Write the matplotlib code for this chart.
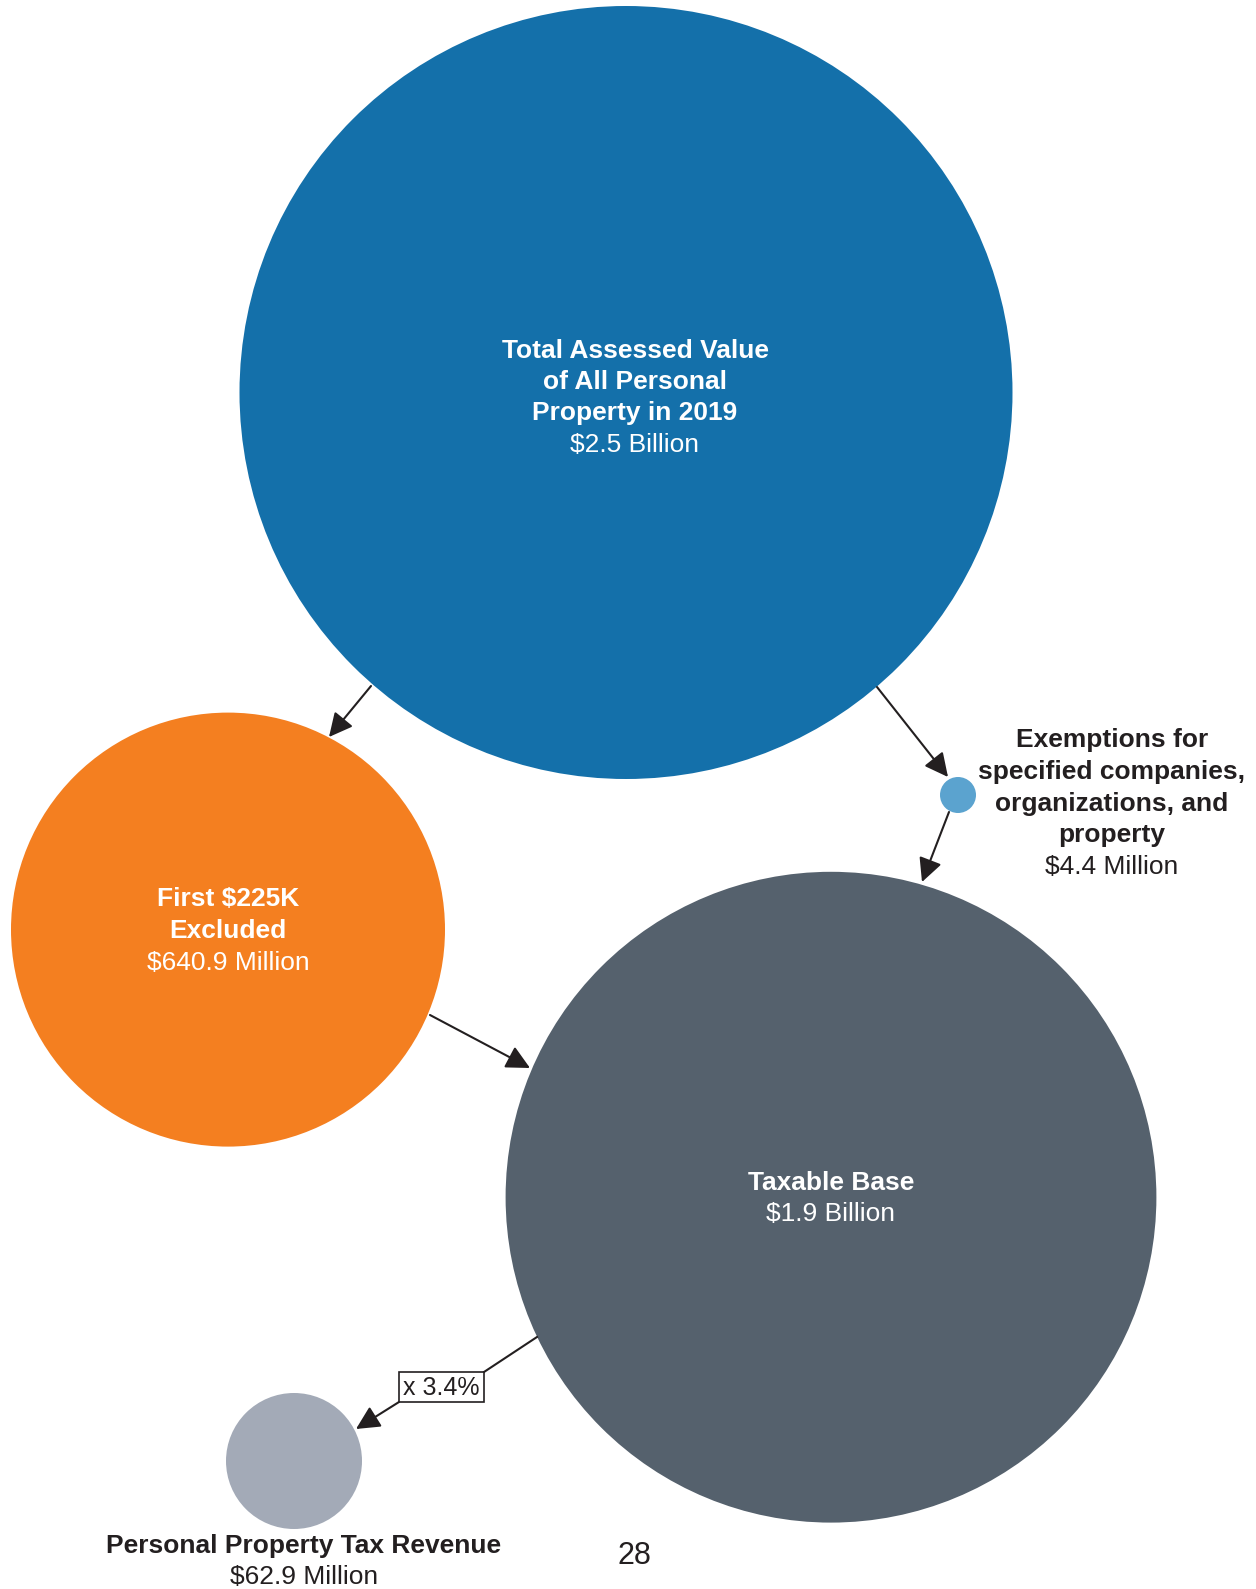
import matplotlib.pyplot as plt
from matplotlib.patches import Circle, Rectangle

plt.rcParams["font.family"] = ["Liberation Sans", "DejaVu Sans"]

# ── Datos ──────────────────────────────────────────────────────────────────────
names = [
    "Total Assessed Value\nof All Personal\nProperty in 2019",
    "First $225K\nExcluded",
    "Exemptions for\nspecified companies,\norganizations, and\nproperty",
    "Taxable Base",
    "Personal Property Tax Revenue",
]
amounts = ["$2.5 Billion", "$640.9 Million", "$4.4 Million", "$1.9 Billion", "$62.9 Million"]
values_musd = [2500, 640.9, 4.4, 1900, 62.9]
tax_rate = 3.4
page_number = "28"

# ── Diseño (píxeles, origen arriba-izquierda) ──────────────────────────────────
W, H = 1256, 1589
colors = ["#1470AA", "#F47F20", "#5BA3CF", "#55616D", "#A3AAB7"]
centers = [(626, 392.5), (228, 929.6), (958, 795), (831, 1197.2), (294, 1461)]
radii = [386.5, 217, 18, 325.4, 68]
label_pos = [(635, 358), (228, 906.5), (1112, 747), (831, 1189.5), (304, 1553)]
label_color = ["white", "white", "#231F20", "white", "#231F20"]
line_step = [31.2, 31.5, 31.8, 31.2, 30.5]
TEXT = "#231F20"

# flechas: (inicio, fin)
arrows = [
    ((371, 686), (329, 737)),
    ((877, 687), (948, 777)),
    ((949, 812), (922, 882)),
    ((430, 1015), (530, 1068)),
    ((399, 1402), (356, 1429)),
]
rate_box = (399, 1372, 85, 30)
rate_line = ((537, 1337), (484, 1372))

# ── Gráfica ────────────────────────────────────────────────────────────────────
fig = plt.figure(figsize=(W / 100, H / 100), dpi=100)
ax = fig.add_axes([0, 0, 1, 1])
ax.set_xlim(0, W)
ax.set_ylim(H, 0)
ax.axis("off")

for (cx, cy), r, c in zip(centers, radii, colors):
    ax.add_patch(Circle((cx, cy), r, facecolor=c, edgecolor="none", zorder=1))

for name, amount, (x, y), col, step in zip(names, amounts, label_pos, label_color, line_step):
    lines = name.split("\n")
    for i, line in enumerate(lines):
        ax.text(x, y + i * step, line, ha="center", va="baseline",
                fontsize=19, fontweight="bold", color=col, zorder=3)
    ax.text(x, y + len(lines) * step, amount, ha="center", va="baseline",
            fontsize=19, color=col, zorder=3)

for start, end in arrows:
    ax.annotate("", xy=end, xytext=start,
                arrowprops=dict(arrowstyle="-|>,head_length=0.9,head_width=0.45",
                                mutation_scale=16, color=TEXT, lw=1.5,
                                shrinkA=0, shrinkB=0),
                zorder=2)

ax.plot([rate_line[0][0], rate_line[1][0]], [rate_line[0][1], rate_line[1][1]],
        color=TEXT, lw=1.5, zorder=2)
bx, by, bw, bh = rate_box
ax.add_patch(Rectangle((bx, by), bw, bh, facecolor="white", edgecolor=TEXT, lw=1.2, zorder=3))
ax.text(bx + bw / 2, by + bh / 2 + 1, f"x {tax_rate}%", ha="center", va="center",
        fontsize=18, color=TEXT, zorder=4)

ax.text(634.5, 1556, page_number, ha="center", va="center", fontsize=22, color=TEXT)

fig.savefig("out.png", dpi=100)
